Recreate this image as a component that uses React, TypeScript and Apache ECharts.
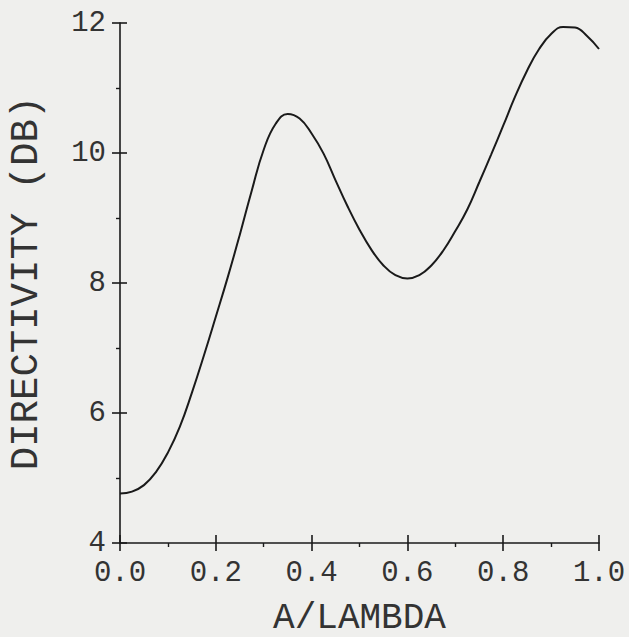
import React, { useEffect, useRef } from "react";
import * as echarts from "echarts";

const xValues = [
  0.0, 0.025, 0.05, 0.075, 0.1, 0.125, 0.15, 0.175, 0.2, 0.225, 0.25, 0.275, 0.3, 0.325, 0.35,
  0.375, 0.4, 0.425, 0.45, 0.475, 0.5, 0.525, 0.55, 0.575, 0.6, 0.625, 0.65, 0.675, 0.7, 0.725,
  0.75, 0.775, 0.8, 0.825, 0.85, 0.875, 0.9, 0.925, 0.95, 0.975, 1.0,
];
const directivity = [
  4.76, 4.79, 4.89, 5.09, 5.39, 5.79, 6.31, 6.88, 7.48, 8.09, 8.74, 9.42, 10.05, 10.45, 10.6,
  10.53, 10.3, 9.99, 9.58, 9.18, 8.82, 8.51, 8.27, 8.12, 8.07, 8.12, 8.27, 8.5, 8.8, 9.13,
  9.55, 9.98, 10.42, 10.87, 11.27, 11.6, 11.83, 11.94, 11.93, 11.8, 11.6,
];
const xTitle = "A/LAMBDA";
const yTitle = "DIRECTIVITY (DB)";

const FONT = "'Liberation Mono', 'DejaVu Sans Mono', monospace";
const INK = "#1a1a1a";
const TEXT_INK = "#333333";

export default function App() {
  const ref = useRef<HTMLDivElement>(null);
  useEffect(() => {
    if (!ref.current) return;
    const chart = echarts.init(ref.current, null, { renderer: "svg" });
    const grid = { left: 120, right: 30, top: 23, bottom: 94, outerBoundsMode: "none", containLabel: false };
    chart.setOption({
      animation: false,
      backgroundColor: "#efefed",
      grid,
      xAxis: [
        {
          type: "value",
          min: 0,
          max: 1,
          interval: 0.2,
          name: xTitle,
          nameLocation: "middle",
          nameGap: 62,
          nameTextStyle: { fontFamily: FONT, fontSize: 36, lineHeight: 26, color: TEXT_INK },
          axisLine: { show: true, lineStyle: { color: INK, width: 1.6 } },
          axisTick: { show: true, inside: false, length: 8, lineStyle: { color: INK, width: 1.6 } },
          minorTick: { show: true, splitNumber: 2, length: 4, lineStyle: { color: INK, width: 1.4 } },
          splitLine: { show: false },
          axisLabel: {
            fontFamily: FONT,
            fontSize: 29,
            color: TEXT_INK,
            margin: 16,
            formatter: (v: number) => v.toFixed(1),
          },
        },
        {
          type: "value",
          min: 0,
          max: 1,
          interval: 0.2,
          position: "bottom",
          axisLine: { show: false },
          axisTick: { show: true, inside: true, length: 8, lineStyle: { color: INK, width: 1.6 } },
          splitLine: { show: false },
          axisLabel: { show: false },
        },
      ],
      yAxis: [
        {
          type: "value",
          min: 4,
          max: 12,
          interval: 2,
          name: yTitle,
          nameLocation: "middle",
          nameRotate: 90,
          nameGap: 74,
          nameTextStyle: { fontFamily: FONT, fontSize: 39, color: TEXT_INK },
          axisLine: { show: true, lineStyle: { color: INK, width: 1.6 } },
          axisTick: { show: true, inside: false, length: 8, lineStyle: { color: INK, width: 1.6 } },
          minorTick: { show: true, splitNumber: 2, length: 4, lineStyle: { color: INK, width: 1.4 } },
          splitLine: { show: false },
          axisLabel: { fontFamily: FONT, fontSize: 29, color: TEXT_INK, margin: 14 },
        },
        {
          type: "value",
          min: 4,
          max: 12,
          interval: 2,
          position: "left",
          axisLine: { show: false },
          axisTick: { show: true, inside: true, length: 7, lineStyle: { color: INK, width: 1.6 } },
          splitLine: { show: false },
          axisLabel: { show: false },
        },
      ],
      series: [
        {
          type: "line",
          xAxisIndex: 0,
          yAxisIndex: 0,
          data: xValues.map((x, i) => [x, directivity[i]]),
          smooth: 0.45,
          symbol: "none",
          lineStyle: { color: INK, width: 2 },
        },
      ],
    });
    return () => chart.dispose();
  }, []);
  return (
    <div
      ref={ref}
      style={{ position: "absolute", left: 0, top: 0, width: 629, height: 637 }}
    />
  );
}
